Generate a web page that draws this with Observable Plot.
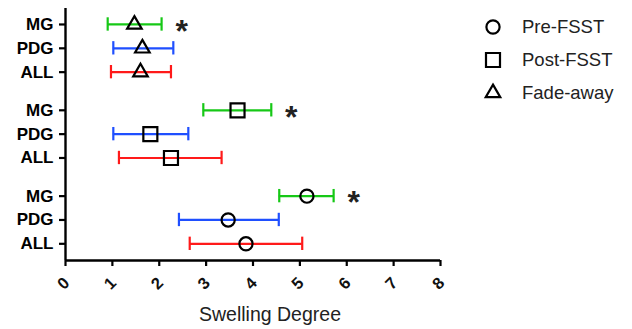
<!DOCTYPE html>
<html>
<head>
<meta charset="utf-8">
<script src="https://cdn.jsdelivr.net/npm/d3@7"></script>
<script src="https://cdn.jsdelivr.net/npm/@observablehq/plot@0.6"></script>
<style>
  html, body { margin: 0; padding: 0; background: #fff; }
  #wrap { position: relative; width: 632px; height: 329px; font-family: "Liberation Sans", Arial, sans-serif; }
  #wrap > svg { position: absolute; left: 0; top: 0; }
</style>
</head>
<body>
<div id="wrap"></div>
<script>
// ---- data ----
const groups = ["Fade-away", "Post-FSST", "Pre-FSST"];          // top to bottom
const groupSymbols = ["triangle", "square", "circle"];
const subgroups = ["MG", "PDG", "ALL"];
const subgroupColors = ["#16c816", "#1f4fff", "#ff1a1a"];

const fadeMean = [1.47, 1.64, 1.60];
const fadeLow  = [0.90, 1.02, 0.97];
const fadeHigh = [2.05, 2.30, 2.25];

const postMean = [3.67, 1.81, 2.25];
const postLow  = [2.94, 1.02, 1.14];
const postHigh = [4.39, 2.62, 3.33];

const preMean = [5.15, 3.47, 3.85];
const preLow  = [4.56, 2.42, 2.65];
const preHigh = [5.72, 4.55, 5.05];

const significant = ["MG"];
const xTicks = [0, 1, 2, 3, 4, 5, 6, 7, 8];
const xLabel = "Swelling Degree";
const legendOrder = ["Pre-FSST", "Post-FSST", "Fade-away"];

// ---- build rows ----
const means = [fadeMean, postMean, preMean];
const lows = [fadeLow, postLow, preLow];
const highs = [fadeHigh, postHigh, preHigh];
const groupStep = 3.6; // row units per group (3 rows + gap)
const rows = [];
groups.forEach((g, gi) => {
  subgroups.forEach((s, si) => {
    rows.push({group: g, sub: s, pos: gi * groupStep + si,
               mean: means[gi][si], lo: lows[gi][si], hi: highs[gi][si]});
  });
});
const labelOf = new Map(rows.map(r => [r.pos, r.sub]));
const yMin = -0.67, yMax = rows[rows.length - 1].pos + 0.7;
const capHalf = 0.28;
const symR = {triangle: 5.4, square: 7.9, circle: 6.6};

const marks = [
  Plot.ruleX([0], {stroke: "#000", strokeWidth: 2.4}),
  Plot.ruleY([yMax], {stroke: "#000", strokeWidth: 2.4}),
  Plot.axisY({ticks: rows.map(r => r.pos), tickFormat: d => labelOf.get(d), tickSize: 6, tickPadding: 6,
              fontSize: 17, fontWeight: "bold", strokeWidth: 2.2, label: null}),
  Plot.axisX({ticks: xTicks, tickSize: 6, strokeWidth: 2.2, tickFormat: () => "", label: null}),
  Plot.text(xTicks, {x: d => d, text: d => String(d), frameAnchor: "bottom", dy: 23, dx: -2, rotate: -45,
                     textAnchor: "middle", lineAnchor: "middle", fontSize: 16.5, fontWeight: "bold", fill: "#111"}),
  Plot.text([xLabel], {text: d => d, frameAnchor: "bottom", dy: 54, dx: 17, fontSize: 19.5, fill: "#222", lineAnchor: "middle"}),
  Plot.ruleY(rows, {y: "pos", x1: "lo", x2: "hi", stroke: "sub", strokeWidth: 2.2}),
  Plot.ruleX(rows, {x: "lo", y1: d => d.pos - capHalf, y2: d => d.pos + capHalf, stroke: "sub", strokeWidth: 2.2}),
  Plot.ruleX(rows, {x: "hi", y1: d => d.pos - capHalf, y2: d => d.pos + capHalf, stroke: "sub", strokeWidth: 2.2}),
  ...groups.map((g, gi) => Plot.dot(rows.filter(r => r.group === g), {
    x: "mean", y: "pos", symbol: groupSymbols[gi], r: symR[groupSymbols[gi]],
    stroke: "#000", fill: "none", strokeWidth: 2.2
  })),
  Plot.text(rows.filter(r => significant.includes(r.sub)), {
    x: "hi", y: "pos", text: () => "*", dx: 20, dy: 7, fontSize: 32, fontWeight: "bold", fill: "#222"
  })
];

const chart = Plot.plot({
  width: 632, height: 329,
  marginLeft: 65, marginRight: 192, marginTop: 8, marginBottom: 69,
  x: {domain: [0, 8], axis: null},
  y: {domain: [yMin, yMax], reverse: true, axis: null},
  color: {domain: subgroups, range: subgroupColors},
  style: {fontFamily: "'Liberation Sans', Arial, sans-serif", background: "white", overflow: "visible"},
  marks
});
document.getElementById("wrap").appendChild(chart);

// ---- legend (overlay) ----
const legend = d3.select("#wrap").append("svg")
  .attr("width", 632).attr("height", 329)
  .style("pointer-events", "none");
const symMap = {circle: d3.symbolCircle, square: d3.symbolSquare, triangle: d3.symbolTriangle};
legendOrder.forEach((name, i) => {
  const gi = groups.indexOf(name);
  const sym = groupSymbols[gi];
  const cy = 27 + i * 33;
  const r = symR[sym];
  legend.append("path")
    .attr("d", d3.symbol(symMap[sym], Math.PI * r * r)())
    .attr("transform", `translate(493,${cy})`)
    .attr("fill", "none").attr("stroke", "#000").attr("stroke-width", 2.2);
  legend.append("text")
    .attr("x", 522).attr("y", cy).attr("dy", "0.35em")
    .attr("font-family", "'Liberation Sans', Arial, sans-serif")
    .attr("font-size", 18.5).attr("fill", "#222")
    .text(name);
});
</script>
</body>
</html>
